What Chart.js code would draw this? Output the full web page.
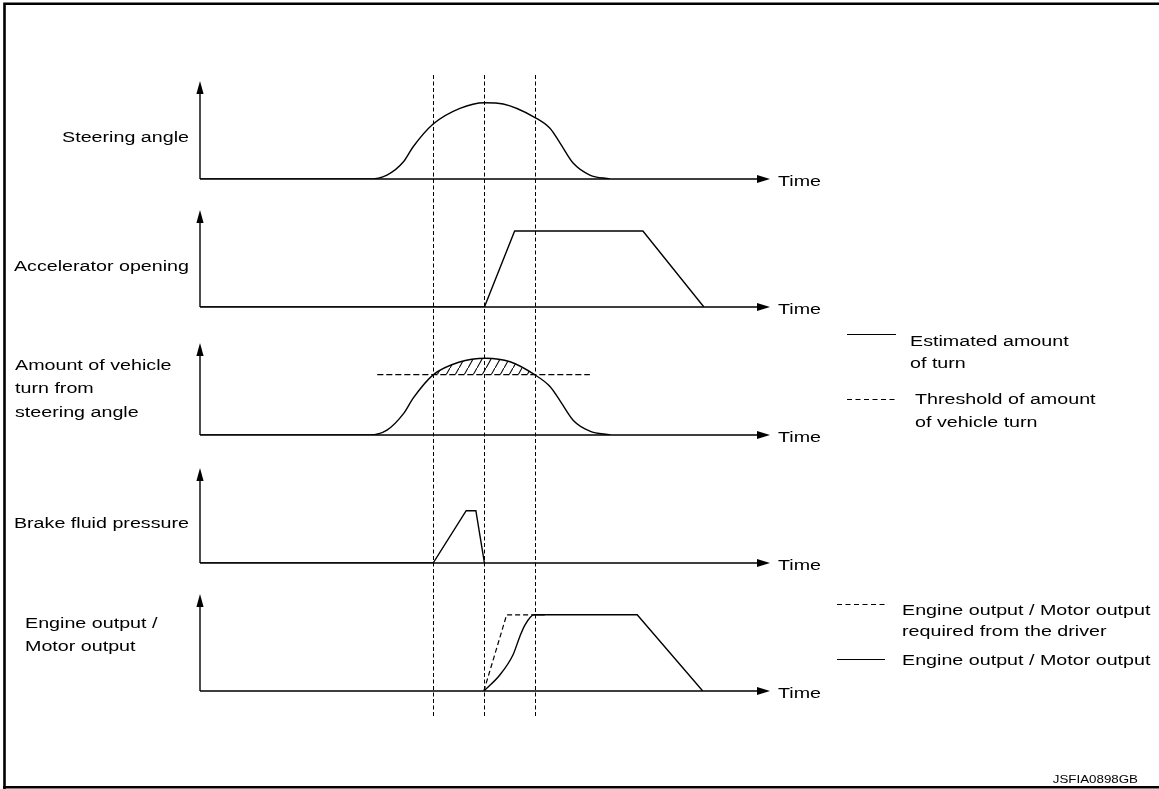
<!DOCTYPE html>
<html>
<head>
<meta charset="utf-8">
<script src="https://cdn.jsdelivr.net/npm/chart.js@4.4.1/dist/chart.umd.min.js"></script>
<style>
html,body{margin:0;padding:0;background:#fff;overflow:hidden}
canvas{display:block}
</style>
</head>
<body>
<canvas id="c" width="1159" height="789"></canvas>
<script>
// ---------- DATA (time axis 0..100, amplitude: 100 = top of each panel's arrow) ----------
const panelLabels = [
  ["Steering angle"],
  ["Accelerator opening"],
  ["Amount of vehicle", "turn from", "steering angle"],
  ["Brake fluid pressure"],
  ["Engine output /", "Motor output"]
];
const timeLabel = "Time";
const markerTimes = [40.9, 49.8, 58.8];

const steeringT = [0, 29.5, 32.8, 35.7, 37.4, 40.9, 45.6, 49.9, 53.2, 58.7, 61.4, 63.2, 65.5, 68.4, 71.9];
const steeringV = [0, 0, 4.1, 17.8, 33.3, 56.7, 72.9, 78.7, 77.3, 63.6, 52.3, 36.8, 16.2, 4.1, 0];

const accelT = [0, 49.9, 55.2, 77.7, 88.4];
const accelV = [0, 0, 78.4, 78.4, 0];

const turnT = [0, 29.8, 32.8, 35.7, 37.4, 40.9, 45.4, 50.1, 54.4, 58.7, 61.4, 63.2, 65.5, 68.4, 72.0];
const turnV = [0, 0, 5, 22, 38, 62, 75, 79.2, 75.5, 62.2, 50, 35, 15, 4, 0];
const thresholdT = [31.1, 68.4];
const thresholdV = [62.2, 62.2];

const brakeT = [0, 40.9, 46.7, 48.4, 49.9];
const brakeV = [0, 0, 53.9, 53.9, 0];

const engineReqT = [49.8, 53.8, 58.6];
const engineReqV = [0, 78.6, 78.6];
const engineRiseT = [49.8, 52.6, 54.9, 56.1, 57.0, 58.6, 60.5];
const engineRiseV = [0, 16.5, 37.1, 56, 68, 78.6, 78.6];
const engineHoldT = [58.6, 76.7, 88.2];
const engineHoldV = [78.6, 78.6, 0];

const legendTexts = [
  ["Estimated amount", "of turn"],
  ["Threshold of amount", "of vehicle turn"],
  ["Engine output / Motor output", "required from the driver"],
  ["Engine output / Motor output"]
];
const figureCode = "JSFIA0898GB";

// ---------- helpers ----------
function pts(T, V) { return T.map((t, i) => ({ x: t, y: V[i] })); }

const FONT = '"Liberation Sans", Arial, Helvetica, sans-serif';
const XSTRETCH = 1.27;

// hatch pattern
const tile = document.createElement('canvas');
tile.width = 9; tile.height = 16;
const tg = tile.getContext('2d');
tg.strokeStyle = '#000'; tg.lineWidth = 1.1;
tg.beginPath(); tg.moveTo(0, 16); tg.lineTo(9, 0); tg.stroke();
const hatch = document.createElement('canvas').getContext('2d').createPattern(tile, 'repeat');

const solid = { borderColor: '#000', borderWidth: 1.4, pointRadius: 0, fill: false, tension: 0 };

const datasets = [
  { ...solid, data: pts(steeringT, steeringV), yAxisID: 'y0', cubicInterpolationMode: 'monotone' },
  { ...solid, data: pts(accelT, accelV), yAxisID: 'y1' },
  { ...solid, data: pts(turnT, turnV), yAxisID: 'y2', cubicInterpolationMode: 'monotone',
    fill: { target: 3, above: hatch, below: 'rgba(0,0,0,0)' } },
  { ...solid, data: pts(thresholdT, thresholdV), yAxisID: 'y2', borderDash: [6, 3], borderWidth: 1.2 },
  { ...solid, data: pts(brakeT, brakeV), yAxisID: 'y3' },
  { ...solid, data: pts(engineReqT, engineReqV), yAxisID: 'y4', borderDash: [5, 3], borderWidth: 1.2 },
  { ...solid, data: pts(engineRiseT, engineRiseV), yAxisID: 'y4', cubicInterpolationMode: 'monotone' },
  { ...solid, data: pts(engineHoldT, engineHoldV), yAxisID: 'y4' }
];

const scales = { x: { type: 'linear', min: 0, max: 100, display: false } };
for (let i = 0; i < 5; i++) {
  scales['y' + i] = { type: 'linear', min: 0, max: 132, display: false,
    position: 'left', stack: 'panels', stackWeight: 1, weight: 5 - i };
}

function stretchedText(ctx, text, x, y, align, size) {
  ctx.save();
  ctx.font = size + 'px ' + FONT;
  ctx.fillStyle = '#000';
  ctx.textBaseline = 'alphabetic';
  ctx.textAlign = align;
  ctx.translate(x, y);
  ctx.scale(XSTRETCH, 1);
  ctx.fillText(text, 0, 0);
  ctx.restore();
}

const labelLayout = [
  { x: 189, align: 'right', y: [141.5] },
  { x: 189, align: 'right', y: [270.5] },
  { x: 15, align: 'left', y: [369.5, 393, 416.5] },
  { x: 189, align: 'right', y: [527.5] },
  { x: 25, align: 'left', y: [627.5, 651] }
];
const arrowTops = [101, 100, 95, 98, 100];

const deco = {
  id: 'deco',
  beforeDraw(chart) {
    const ctx = chart.ctx;
    ctx.save();
    ctx.fillStyle = '#fff';
    ctx.fillRect(0, 0, chart.width, chart.height);
    ctx.strokeStyle = '#000';
    ctx.lineWidth = 2.6;
    ctx.beginPath();
    ctx.moveTo(4.5, 789); ctx.lineTo(4.5, 3.7); ctx.lineTo(1159, 3.7);
    ctx.moveTo(3, 787.2); ctx.lineTo(1159, 787.2);
    ctx.stroke();
    ctx.restore();
  },
  beforeDatasetsDraw(chart) {
    const ctx = chart.ctx, xs = chart.scales.x;
    ctx.save();
    ctx.strokeStyle = '#000';
    ctx.lineWidth = 1;
    ctx.setLineDash([4, 2.5]);
    markerTimes.forEach(t => {
      const px = Math.round(xs.getPixelForValue(t)) + 0.5;
      ctx.beginPath(); ctx.moveTo(px, 75); ctx.lineTo(px, 718); ctx.stroke();
    });
    ctx.restore();
  },
  afterDatasetsDraw(chart) {
    const ctx = chart.ctx, xs = chart.scales.x;
    const x0 = xs.getPixelForValue(0), x1 = xs.getPixelForValue(100);
    ctx.save();
    ctx.strokeStyle = '#000'; ctx.fillStyle = '#000'; ctx.lineWidth = 1.4;
    for (let i = 0; i < 5; i++) {
      const ys = chart.scales['y' + i];
      const yb = ys.getPixelForValue(0), yt = ys.getPixelForValue(arrowTops[i]);
      ctx.beginPath();
      ctx.moveTo(x0, yb); ctx.lineTo(x0, yt + 10);
      ctx.moveTo(x0, yb); ctx.lineTo(x1 - 10, yb);
      ctx.stroke();
      ctx.beginPath();
      ctx.moveTo(x0, yt); ctx.lineTo(x0 - 3.6, yt + 13); ctx.lineTo(x0 + 3.6, yt + 13); ctx.closePath(); ctx.fill();
      ctx.beginPath();
      ctx.moveTo(x1, yb); ctx.lineTo(x1 - 13, yb - 4); ctx.lineTo(x1 - 13, yb + 4); ctx.closePath(); ctx.fill();
      stretchedText(ctx, timeLabel, x1 + 8, yb + 6.5, 'left', 15.5);
      const L = labelLayout[i];
      panelLabels[i].forEach((s, k) => stretchedText(ctx, s, L.x, L.y[k], L.align, 15.5));
    }
    const legendLines = [
      { x1: 847, x2: 896, y: 334, dash: [], tx: 910, ty: [346, 368] },
      { x1: 847, x2: 897, y: 399, dash: [5, 3.5], tx: 915, ty: [403.5, 427] },
      { x1: 837, x2: 885, y: 604, dash: [5, 3.5], tx: 902, ty: [614.5, 636] },
      { x1: 837, x2: 885, y: 659, dash: [], tx: 902, ty: [665] }
    ];
    legendLines.forEach((l, i) => {
      ctx.save();
      ctx.lineWidth = 1.1;
      ctx.setLineDash(l.dash);
      ctx.beginPath(); ctx.moveTo(l.x1, l.y + 0.5); ctx.lineTo(l.x2, l.y + 0.5); ctx.stroke();
      ctx.restore();
      legendTexts[i].forEach((s, k) => stretchedText(ctx, s, l.tx, l.ty[k], 'left', 15.5));
    });
    stretchedText(ctx, figureCode, 1138, 783, 'right', 10.5);
    ctx.restore();
  }
};

new Chart(document.getElementById('c'), {
  type: 'line',
  data: { datasets },
  options: {
    responsive: false,
    animation: false,
    events: [],
    layout: { padding: { left: 200, right: 389, top: 51, bottom: 98 } },
    scales,
    plugins: { legend: { display: false }, tooltip: { enabled: false }, filler: { propagate: false } }
  },
  plugins: [deco]
});
</script>
</body>
</html>
